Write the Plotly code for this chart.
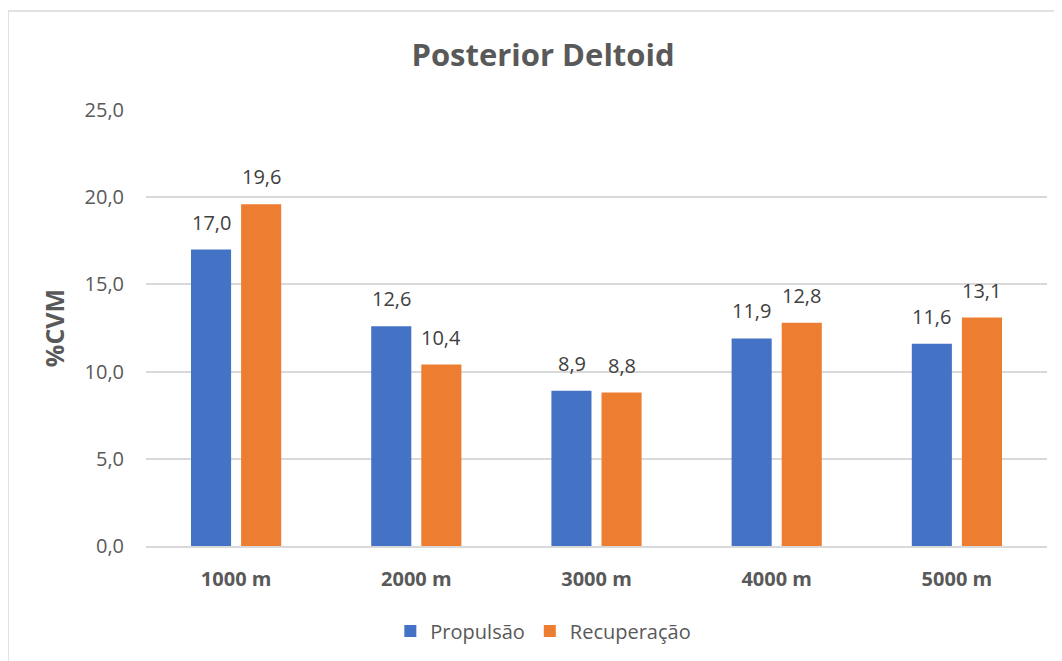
import plotly.graph_objects as go

categories = ["1000 m", "2000 m", "3000 m", "4000 m", "5000 m"]
propulsao = [17.0, 12.6, 8.9, 11.9, 11.6]
recuperacao = [19.6, 10.4, 8.8, 12.8, 13.1]
series_names = ["Propulsão", "Recuperação"]
colors = ["#4472C4", "#ED7D31"]
yticks = [0, 5, 10, 15, 20, 25]
yticklabels = ["0,0", "5,0", "10,0", "15,0", "20,0", "25,0"]

FONT = "Open Sans, Liberation Sans"

def fmt(v):
    return f"{v:.1f}".replace(".", ",")

fig = go.Figure()
for name, vals, col in zip(series_names, [propulsao, recuperacao], colors):
    fig.add_trace(go.Bar(
        x=categories, y=vals, name=name,
        marker=dict(color=col, line=dict(width=0)),
    ))

# data labels above bars (offset by half a group slot in pixels)
for vals, shift in zip([propulsao, recuperacao], [-25, 25]):
    for c, v in zip(categories, vals):
        fig.add_annotation(x=c, y=v, text=fmt(v), showarrow=False,
                           xshift=shift, yshift=12, yanchor="bottom",
                           font=dict(family=FONT, size=20, color="#404040"))

fig.update_layout(
    width=1062, height=661,
    margin=dict(l=138, r=23, t=102, b=123, autoexpand=False),
    paper_bgcolor="white", plot_bgcolor="white",
    barmode="group", bargap=0.444, bargroupgap=0.2,
    title=dict(text="<b>Posterior Deltoid</b>", x=0.5 + 4 / 1062, xref="container", xanchor="center",
               y=1 - 47 / 661, yanchor="middle",
               font=dict(family=FONT, size=31, color="#595959")),
    font=dict(family=FONT, color="#595959"),
    showlegend=True,
    legend=dict(orientation="h", x=0.441, xanchor="center",
                y=-85 / 436, yanchor="middle",
                font=dict(size=20, color="#595959", family=FONT),
                traceorder="normal"),
    xaxis=dict(showgrid=False, showline=True, linecolor="#D9D9D9", linewidth=1.5,
               ticks="", tickangle=0,
               tickfont=dict(size=20, color="#595959", family=FONT),
               ticklabelstandoff=14),
    yaxis=dict(range=[0, 25], tickvals=yticks, ticktext=yticklabels,
               showgrid=True, gridcolor="#D9D9D9", gridwidth=1.5, zeroline=False,
               showline=False, ticks="",
               tickfont=dict(size=20, color="#595959", family=FONT),
               ticklabelstandoff=21,
               title=dict(text="<b>%CVM</b>", standoff=12,
                          font=dict(size=25, color="#595959", family=FONT))),
)
fig.update_xaxes(tickprefix="<b>", ticksuffix="</b>")

fig.add_shape(type="rect", xref="paper", yref="paper",
              x0=(0 - 138) / 901, x1=(1070 - 138) / 901,
              y0=-(670 - 538) / 436, y1=(538 - 3) / 436,
              line=dict(color="#D9D9D9", width=1.5), fillcolor="rgba(0,0,0,0)", layer="below")

fig.write_html("out.html")
